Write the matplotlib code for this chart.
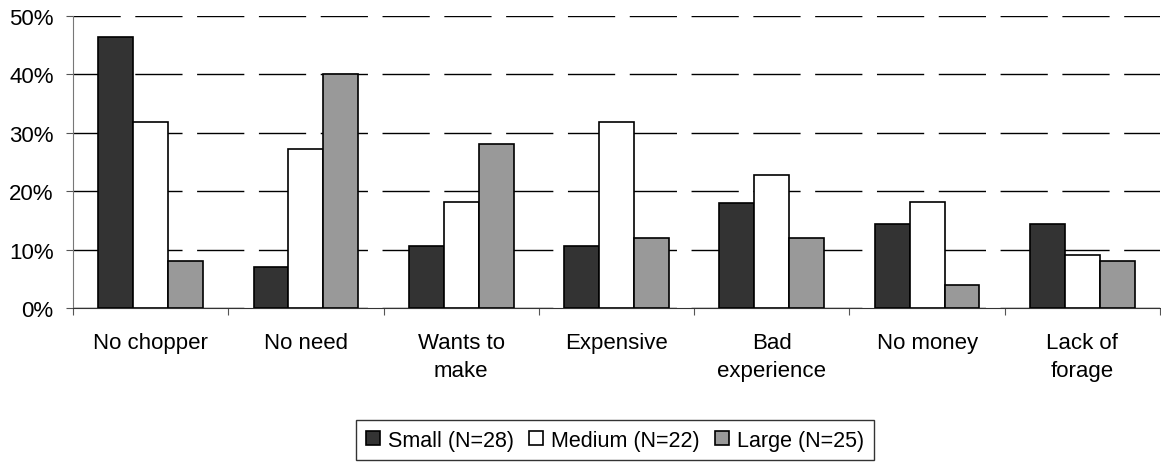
import matplotlib
matplotlib.use("Agg")
import matplotlib.pyplot as plt
import numpy as np
from matplotlib.ticker import FixedLocator, PercentFormatter

categories = ["No chopper", "No need", "Wants to\nmake", "Expensive", "Bad\nexperience", "No money", "Lack of\nforage"]
small = [46.4, 7.1, 10.7, 10.7, 17.9, 14.3, 14.3]
medium = [31.8, 27.3, 18.2, 31.8, 22.7, 18.2, 9.1]
large = [8.0, 40.0, 28.0, 12.0, 12.0, 4.0, 8.0]
series_labels = ["Small (N=28)", "Medium (N=22)", "Large (N=25)"]
colors = ["#333333", "#ffffff", "#999999"]

plt.rcParams['font.family'] = ['Liberation Sans', 'DejaVu Sans']
plt.rcParams['lines.scale_dashes'] = False

fig = plt.figure(figsize=(11.61, 4.64), dpi=100)
ax = fig.add_axes([73/1161, 1-309/464, (1160-73)/1161, (309-17)/464])

x = np.arange(len(categories))
w = 0.225
for i, (vals, lab, c) in enumerate(zip([small, medium, large], series_labels, colors)):
    ax.bar(x + (i-1)*w, vals, w, color=c, edgecolor='black', linewidth=1.2, label=lab, zorder=3)

ax.set_xlim(-0.5, len(categories)-0.5)
ax.set_ylim(0, 50)
ax.set_yticks(np.arange(0, 51, 10))
ax.yaxis.set_major_formatter(PercentFormatter(decimals=0))
ax.yaxis.grid(True, color='black', linewidth=1.0, linestyle=(0, (34, 10.5)), zorder=0)

ax.xaxis.set_major_locator(FixedLocator(np.arange(-0.5, len(categories), 1)))
ax.xaxis.set_minor_locator(FixedLocator(x))
ax.set_xticklabels([], minor=False)
ax.set_xticklabels(categories, minor=True, fontsize=16, linespacing=1.45)
ax.tick_params(axis='x', which='major', length=5, direction='out', color='#555555')
ax.tick_params(axis='x', which='minor', length=0, pad=17)
ax.tick_params(axis='y', length=5, direction='out', color='#555555', labelsize=16, pad=9)

for s in ['top', 'right']:
    ax.spines[s].set_visible(False)
ax.spines['left'].set_color('#777777')
ax.spines['bottom'].set_color('#333333')

leg = fig.legend(loc='center', bbox_to_anchor=(615/1161, 1-441/464), ncol=3, fontsize=15.5,
                 frameon=True, fancybox=False, handlelength=0.65, handleheight=0.65,
                 handletextpad=0.37, columnspacing=0.7, borderpad=0.45, borderaxespad=0)
leg.get_frame().set_edgecolor('black')
leg.get_frame().set_linewidth(1.0)

fig.savefig("out.png", dpi=100)
